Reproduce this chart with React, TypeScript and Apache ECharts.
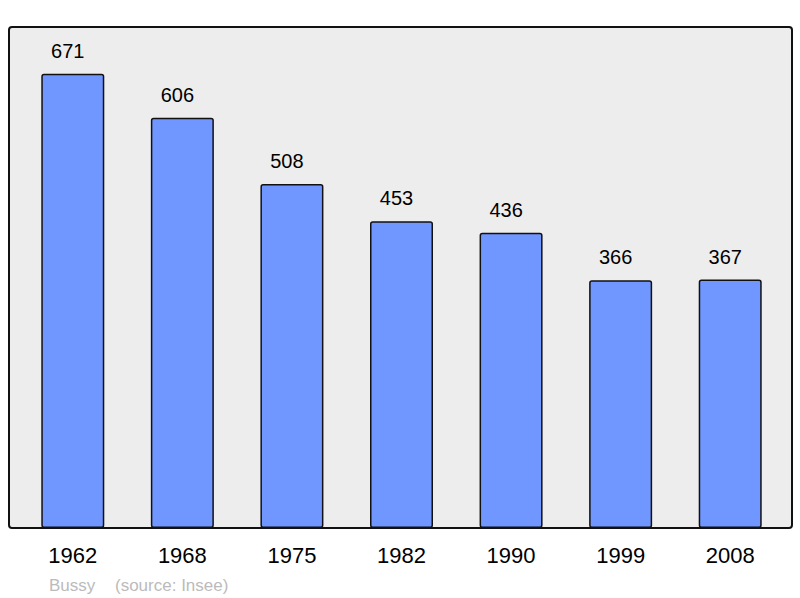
import React, { useEffect, useRef } from "react";
import * as echarts from "echarts";

const years = ["1962", "1968", "1975", "1982", "1990", "1999", "2008"];
const population = [671, 606, 508, 453, 436, 366, 367];
const footerName = "Bussy";
const footerSource = "(source: Insee)";

export default function App() {
  const ref = useRef<HTMLDivElement>(null);
  useEffect(() => {
    if (!ref.current) return;
    const chart = echarts.init(ref.current, null, { renderer: "svg" });
    chart.setOption({
      animation: false,
      backgroundColor: "#ffffff",
      textStyle: { fontFamily: "Liberation Sans, Arial, sans-serif" },
      grid: { left: 18, right: 15, top: 27, bottom: 70 },
      xAxis: {
        type: "category",
        data: years,
        axisLine: { show: false },
        axisTick: { show: false },
        axisLabel: {
          color: "#000",
          fontSize: 22,
          margin: 16,
          fontFamily: "Liberation Sans, Arial, sans-serif",
        },
      },
      yAxis: {
        type: "value",
        min: 0,
        max: 740,
        show: false,
        splitLine: { show: false },
      },
      graphic: [
        {
          type: "rect",
          z: -10,
          shape: { x: 9, y: 27, width: 783, height: 501, r: 3 },
          style: { fill: "#ededed", stroke: "#111111", lineWidth: 2 },
          silent: true,
        },
        {
          type: "text",
          x: 49,
          y: 585,
          style: {
            text: footerName,
            fill: "#bbbbbb",
            fontSize: 17,
            fontFamily: "Liberation Sans, Arial, sans-serif",
            verticalAlign: "middle",
          },
        },
        {
          type: "text",
          x: 115,
          y: 585,
          style: {
            text: footerSource,
            fill: "#bbbbbb",
            fontSize: 17,
            fontFamily: "Liberation Sans, Arial, sans-serif",
            verticalAlign: "middle",
          },
        },
      ],
      series: [
        {
          type: "bar",
          data: population,
          barWidth: 63,
          z: 2,
          itemStyle: {
            color: "#7096ff",
            borderColor: "#111111",
            borderWidth: 1.5,
            borderRadius: 2,
          },
          label: {
            show: true,
            position: "top",
            distance: 13,
            offset: [-5, 0],
            color: "#000",
            fontSize: 20,
            fontFamily: "Liberation Sans, Arial, sans-serif",
          },
        },
      ],
    });
    return () => chart.dispose();
  }, []);
  return <div ref={ref} style={{ width: 800, height: 598, position: "absolute", left: 0, top: 0 }} />;
}
